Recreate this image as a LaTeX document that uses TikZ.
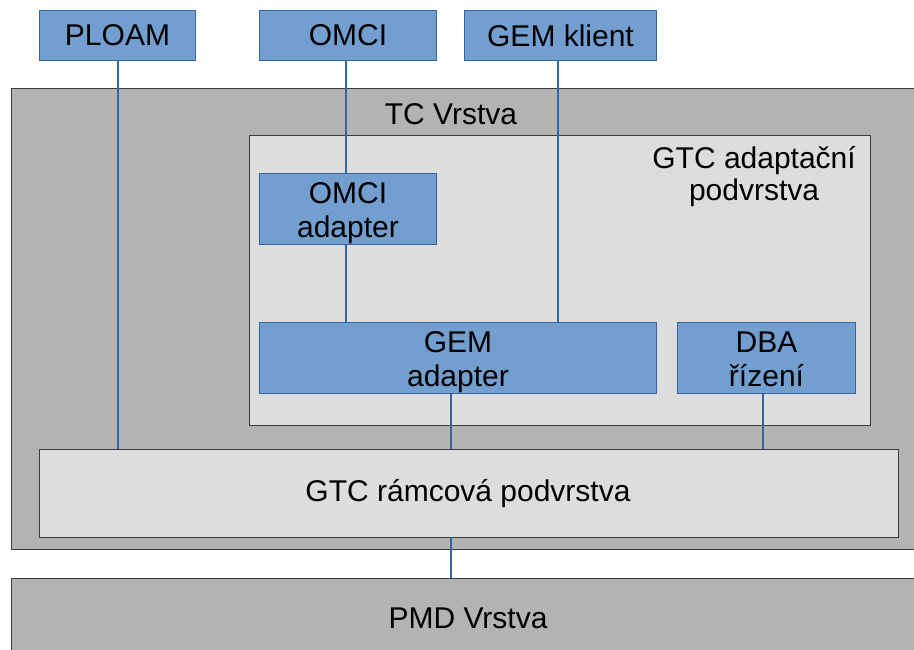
\documentclass[tikz,border=0pt]{standalone}
\usepackage{fontspec}
\setmainfont{Liberation Sans}
\definecolor{bfill}{HTML}{729FCF}
\definecolor{bline}{HTML}{3465A4}
\definecolor{dgray}{HTML}{B3B3B3}
\definecolor{lgray}{HTML}{DDDDDD}
\definecolor{edge}{HTML}{3C3C3C}
\tikzset{
  x=1pt, y=-1pt,
  every node/.style={font=\fontsize{30}{34}\selectfont, inner sep=0pt, align=center},
  bluebox/.style={draw=bline, fill=bfill, line width=1pt},
  darkbox/.style={draw=edge, fill=dgray, line width=1pt},
  lightbox/.style={draw=edge, fill=lgray, line width=1pt},
  conn/.style={draw=bline, line width=2pt}
}
\begin{document}
\begin{tikzpicture}
\useasboundingbox (0,0) rectangle (914,649);
\clip (0,0) rectangle (914,649);
% layers
\node[darkbox, minimum width=914, minimum height=461, anchor=north west] (tc) at (11,88) {};
\node at (451,114) (tclabel) {TC Vrstva};
\node[lightbox, minimum width=621, minimum height=290, anchor=north west] (gtca) at (249,135) {};
\node[anchor=north east, align=center, font=\fontsize{30}{32}\selectfont] (gtcalabel) at (856,146) {GTC adaptační\\podvrstva};
\node[lightbox, minimum width=859, minimum height=88, anchor=north west] (gtcr) at (39,449) {};
\node (gtcrlabel) at (468,494) {GTC rámcová podvrstva};
\node[darkbox, minimum width=914, minimum height=90, anchor=north west] (pmd) at (11,578) {};
\node (pmdlabel) at (468,618) {PMD Vrstva};
% top boxes
\node[bluebox, minimum width=156, minimum height=50, anchor=north west] (ploam) at (39,10) {PLOAM};
\node[bluebox, minimum width=177, minimum height=50, anchor=north west] (omci) at (259,10) {OMCI};
\node[bluebox, minimum width=192, minimum height=50, anchor=north west] (gemk) at (464,10) {GEM klient};
% inner boxes
\node[bluebox, minimum width=177, minimum height=71, anchor=north west] (omciad) at (259,173) {};
\node (omciadlabel) at ([yshift=-4]omciad.center) {OMCI\\adapter};
\node[bluebox, minimum width=397, minimum height=71, anchor=north west] (gemad) at (259,322) {};
\node (gemadlabel) at ([yshift=-4]gemad.center) {GEM\\adapter};
\node[bluebox, minimum width=178, minimum height=71, anchor=north west] (dba) at (677,322) {};
\node (dbalabel) at ([yshift=-1]dba.center) {DBA\\řízení};
% connectors
\draw[conn] (ploam.south) -- (ploam.south |- gtcr.north);
\draw[conn] ([xshift=-2.5]omci.south) -- ([xshift=-2.5]omciad.north);
\draw[conn] ([xshift=-2.5]omciad.south) -- ([xshift=-2.5]omciad.south |- gemad.north);
\draw[conn] ([xshift=-3]gemk.south) -- ([xshift=-3]gemk.south |- gemad.north);
\draw[conn] (451,393) coordinate (ga) -- (ga |- gtcr.north);
\draw[conn] (763,393) coordinate (da) -- (da |- gtcr.north);
\draw[conn] (451,537) coordinate (gr) -- (gr |- pmd.north);
\end{tikzpicture}
\end{document}
